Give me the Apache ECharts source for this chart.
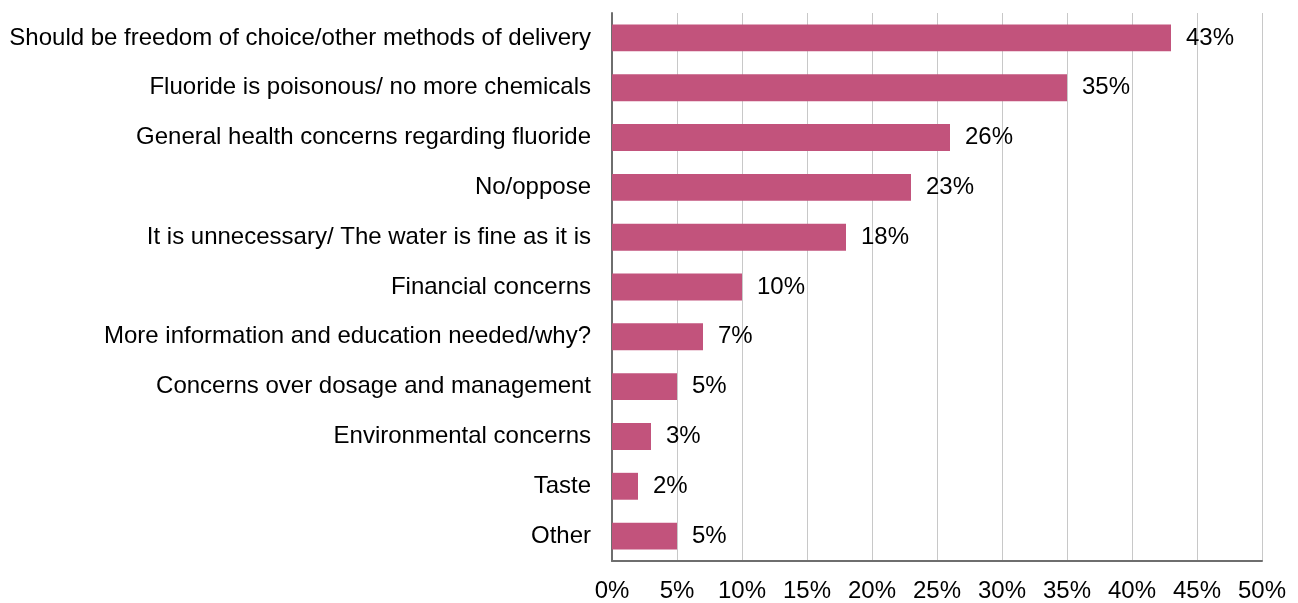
<!DOCTYPE html>
<html><head><meta charset="utf-8">
<script src="https://cdn.jsdelivr.net/npm/echarts@6/dist/echarts.min.js"></script>
<style>html,body{margin:0;padding:0;background:#fff}#c{width:1298px;height:603px}</style>
</head><body><div id="c"></div>
<script>
const categories = [
  "Should be freedom of choice/other methods of delivery",
  "Fluoride is poisonous/ no more chemicals",
  "General health concerns regarding fluoride",
  "No/oppose",
  "It is unnecessary/ The water is fine as it is",
  "Financial concerns",
  "More information and education needed/why?",
  "Concerns over dosage and management",
  "Environmental concerns",
  "Taste",
  "Other"
];
const values = [43, 35, 26, 23, 18, 10, 7, 5, 3, 2, 5];
const xTicks = [0, 5, 10, 15, 20, 25, 30, 35, 40, 45, 50];

const chart = echarts.init(document.getElementById('c'));
const font = "'Liberation Sans', Arial, sans-serif";
chart.setOption({
  animation: false,
  grid: { left: 612, right: 36, top: 13, bottom: 38, containLabel: false },
  xAxis: {
    type: 'value', min: xTicks[0], max: xTicks[xTicks.length - 1], interval: 5,
    axisLine: { show: true, lineStyle: { color: '#6e6e6e', width: 2 } },
    axisTick: { show: false },
    splitLine: { show: true, lineStyle: { color: '#c8c8c8', width: 1 } },
    axisLabel: { formatter: v => v + '%', color: '#000', fontSize: 24, fontFamily: font, margin: 18 }
  },
  yAxis: {
    type: 'category', data: categories, inverse: true,
    axisLine: { show: true, lineStyle: { color: '#6e6e6e', width: 2 } },
    axisTick: { show: false },
    axisLabel: { color: '#000', fontSize: 24, fontFamily: font, margin: 21 }
  },
  series: [{
    type: 'bar', data: values, barWidth: '54%',
    itemStyle: { color: '#c2537c' },
    label: { show: true, position: 'right', distance: 15, formatter: p => p.value + '%', color: '#000', fontSize: 24, fontFamily: font }
  }]
});
</script></body></html>
